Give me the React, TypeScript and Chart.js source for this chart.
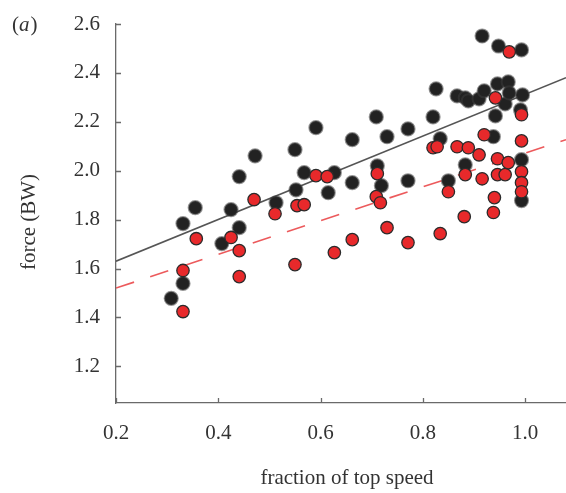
import React, { useEffect, useRef } from 'react';
import { Chart, registerables } from 'chart.js';

Chart.register(...registerables);

// ---- data ----
const blackX = [0.308, 0.331, 0.331, 0.355, 0.407, 0.425, 0.441, 0.441, 0.472, 0.513, 0.55, 0.552, 0.568, 0.591, 0.615, 0.627, 0.662, 0.662, 0.709, 0.711, 0.719, 0.73, 0.771, 0.771, 0.826, 0.82, 0.834, 0.85, 0.867, 0.883, 0.889, 0.91, 0.92, 0.883, 0.916, 0.938, 0.942, 0.946, 0.948, 0.961, 0.967, 0.969, 0.993, 0.995, 0.991, 0.993, 0.993];
const blackY = [1.478, 1.539, 1.784, 1.849, 1.702, 1.841, 1.767, 1.976, 2.061, 1.869, 2.086, 1.922, 1.992, 2.176, 1.91, 1.992, 2.127, 1.951, 2.22, 2.02, 1.939, 2.139, 2.171, 1.959, 2.335, 2.22, 2.131, 1.959, 2.306, 2.298, 2.286, 2.294, 2.327, 2.024, 2.551, 2.139, 2.224, 2.355, 2.51, 2.273, 2.363, 2.318, 2.494, 2.31, 2.249, 2.045, 1.878];

const redX = [0.331, 0.331, 0.357, 0.425, 0.441, 0.441, 0.47, 0.511, 0.55, 0.554, 0.568, 0.591, 0.613, 0.627, 0.662, 0.711, 0.709, 0.717, 0.73, 0.771, 0.82, 0.828, 0.834, 0.85, 0.867, 0.889, 0.883, 0.881, 0.91, 0.916, 0.92, 0.938, 0.94, 0.942, 0.946, 0.946, 0.961, 0.967, 0.969, 0.993, 0.993, 0.993, 0.993, 0.993];
const redY = [1.424, 1.592, 1.722, 1.727, 1.673, 1.567, 1.882, 1.824, 1.616, 1.857, 1.861, 1.98, 1.976, 1.665, 1.718, 1.988, 1.894, 1.869, 1.767, 1.706, 2.094, 2.098, 1.743, 1.914, 2.098, 2.094, 1.984, 1.812, 2.065, 1.967, 2.147, 1.829, 1.89, 2.298, 2.049, 1.984, 1.984, 2.033, 2.486, 2.122, 1.996, 1.951, 1.914, 2.229];

const fitX = [0.2, 1.08];
const fitBlackY = [1.63, 2.38];
const fitRedY = [1.52, 2.127];

const xTicks = [0.2, 0.4, 0.6, 0.8, 1.0];
const yTicks = [1.2, 1.4, 1.6, 1.8, 2.0, 2.2, 2.4, 2.6];

const xTitle = 'fraction of top speed';
const yTitle = 'force (BW)';
const panelLabel = 'a';

const FONT = "'Liberation Serif', 'DejaVu Serif', serif";
const TEXT = '#333333';
const AXIS = '#6a6a6a';

Chart.defaults.font.family = FONT;

const zip = (xs: number[], ys: number[]) => xs.map((x, i) => ({ x, y: ys[i] }));

const decor = {
  id: 'decor',
  afterDraw(chart: any) {
    const { ctx, chartArea, scales } = chart;
    const xs = scales.x;
    const ys = scales.y;
    ctx.save();
    // inward tick marks
    ctx.strokeStyle = AXIS;
    ctx.lineWidth = 1.3;
    ctx.beginPath();
    xTicks.forEach((v) => {
      const px = Math.round(xs.getPixelForValue(v)) + 0.5;
      ctx.moveTo(px, chartArea.bottom);
      ctx.lineTo(px, chartArea.bottom - 5);
    });
    yTicks.forEach((v) => {
      const py = Math.round(ys.getPixelForValue(v)) + 0.5;
      ctx.moveTo(chartArea.left, py);
      ctx.lineTo(chartArea.left + 5, py);
    });
    ctx.stroke();

    ctx.fillStyle = TEXT;
    // x title
    ctx.font = `21px ${FONT}`;
    ctx.textAlign = 'center';
    ctx.textBaseline = 'alphabetic';
    ctx.fillText(xTitle, 347, 484);

    // y title
    ctx.save();
    ctx.translate(35, 222);
    ctx.rotate(-Math.PI / 2);
    ctx.textAlign = 'center';
    ctx.fillText(yTitle, 0, 0);
    ctx.restore();

    // panel label (a)
    ctx.textAlign = 'left';
    let x = 12;
    const base = 31;
    ctx.font = `21px ${FONT}`;
    ctx.fillText('(', x, base);
    x += ctx.measureText('(').width;
    ctx.font = `italic 21px ${FONT}`;
    ctx.fillText(panelLabel, x, base);
    x += ctx.measureText(panelLabel).width + 1;
    ctx.font = `21px ${FONT}`;
    ctx.fillText(')', x, base);
    ctx.restore();
  },
};

export default function App() {
  const ref = useRef<HTMLCanvasElement | null>(null);
  useEffect(() => {
    if (!ref.current) return;
    const chart = new Chart(ref.current, {
      type: 'scatter',
      data: {
        datasets: [
          {
            type: 'line',
            label: 'fit black',
            data: zip(fitX, fitBlackY),
            borderColor: '#555555',
            borderWidth: 1.5,
            pointRadius: 0,
            fill: false,
            order: 4,
          } as any,
          {
            type: 'line',
            label: 'fit red',
            data: zip(fitX, fitRedY),
            borderColor: '#ec5a5c',
            borderWidth: 1.6,
            borderDash: [19, 17],
            pointRadius: 0,
            fill: false,
            order: 3,
          } as any,
          {
            label: 'black',
            data: zip(blackX, blackY),
            backgroundColor: '#222222',
            borderColor: 'rgba(60,60,60,0.55)',
            borderWidth: 2,
            pointRadius: 6.6,
            order: 2,
          },
          {
            label: 'red',
            data: zip(redX, redY),
            backgroundColor: '#e8292b',
            borderColor: '#2b2b2b',
            borderWidth: 1.3,
            pointRadius: 6.2,
            order: 1,
          },
        ],
      },
      options: {
        animation: false,
        responsive: false,
        devicePixelRatio: 1,
        layout: { autoPadding: false, padding: { top: 24, right: 0, left: 0, bottom: 0 } },
        plugins: { legend: { display: false }, tooltip: { enabled: false } },
        scales: {
          x: {
            type: 'linear',
            min: 0.2,
            max: 1.08,
            grid: { display: false, drawTicks: false },
            border: { display: true, color: AXIS, width: 1.3 },
            afterBuildTicks: (s: any) => {
              s.ticks = xTicks.map((value) => ({ value }));
            },
            afterFit: (s: any) => {
              s.height = 90;
              s.paddingRight = 0;
              s.paddingLeft = 0;
            },
            ticks: {
              padding: 18,
              color: TEXT,
              font: { family: FONT, size: 21 },
              callback: (v: any) => Number(v).toFixed(1),
            },
          },
          y: {
            type: 'linear',
            min: 1.05,
            max: 2.6,
            grid: { display: false, drawTicks: false },
            border: { display: true, color: AXIS, width: 1.3 },
            afterBuildTicks: (s: any) => {
              s.ticks = yTicks.map((value) => ({ value }));
            },
            afterFit: (s: any) => {
              s.width = 116;
              s.paddingTop = 0;
              s.paddingBottom = 0;
            },
            ticks: {
              padding: 16,
              color: TEXT,
              font: { family: FONT, size: 21 },
              callback: (v: any) => Number(v).toFixed(1),
            },
          },
        },
      },
      plugins: [decor],
    });
    return () => chart.destroy();
  }, []);
  return (
    <div style={{ position: 'absolute', left: 0, top: 0, width: 566, height: 493, background: '#fff' }}>
      <canvas ref={ref} width={566} height={493} />
    </div>
  );
}
